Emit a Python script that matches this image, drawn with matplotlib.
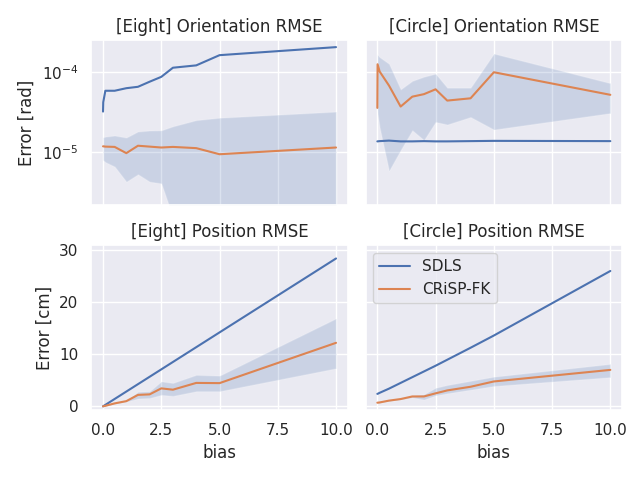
import matplotlib
matplotlib.use('Agg')
import matplotlib.pyplot as plt
import seaborn as sns

sns.set_theme()

bias = [0, 0.01, 0.1, 0.5, 1, 1.5, 2, 2.5, 3, 4, 5, 10]
methods = ['SDLS', 'CRiSP-FK']

# [Eight] orientation RMSE [rad]
eight_ori_sdls = [3.2e-5, 4.2e-5, 5.85e-5, 5.85e-5, 6.3e-5, 6.56e-5, 7.6e-5, 8.75e-5, 1.14e-4, 1.22e-4, 1.64e-4, 2.07e-4]
eight_ori_crisp = [1.17e-5, 1.17e-5, 1.16e-5, 1.15e-5, 9.6e-6, 1.19e-5, 1.16e-5, 1.13e-5, 1.15e-5, 1.11e-5, 9.3e-6, 1.13e-5]
eight_ori_hi = [1.51e-5, 1.52e-5, 1.55e-5, 1.6e-5, 1.51e-5, 1.8e-5, 1.85e-5, 1.86e-5, 2.09e-5, 2.5e-5, 2.68e-5, 3.2e-5]
eight_ori_lo = [8.0e-6, 7.8e-6, 7.4e-6, 6.5e-6, 4.2e-6, 5.2e-6, 4.2e-6, 4.0e-6, 1.5e-6, 5e-7, 3e-7, 3e-7]

# [Circle] orientation RMSE [rad]
circle_ori_sdls = [1.35e-5, 1.35e-5, 1.36e-5, 1.38e-5, 1.35e-5, 1.35e-5, 1.36e-5, 1.35e-5, 1.35e-5, 1.36e-5, 1.37e-5, 1.36e-5]
circle_ori_crisp = [3.56e-5, 1.26e-4, 1.02e-4, 6.8e-5, 3.7e-5, 4.93e-5, 5.3e-5, 6.1e-5, 4.4e-5, 4.7e-5, 1.0e-4, 5.2e-5]
circle_ori_hi = [1.7e-4, 1.65e-4, 1.55e-4, 1.28e-4, 6.1e-5, 7.8e-5, 8.8e-5, 9.6e-5, 6.4e-5, 6.4e-5, 1.72e-4, 7.3e-5]
circle_ori_lo = [3.5e-5, 3.0e-5, 2.0e-5, 5.75e-6, 1.05e-5, 1.86e-5, 1.4e-5, 2.37e-5, 2.2e-5, 2.73e-5, 1.9e-5, 3.06e-5]

# [Eight] position RMSE [cm]
eight_pos_sdls = [0.0, 0.03, 0.28, 1.42, 2.84, 4.26, 5.68, 7.1, 8.52, 11.36, 14.2, 28.4]
eight_pos_crisp = [0.0, 0.02, 0.1, 0.57, 1.0, 2.2, 2.3, 3.45, 3.2, 4.5, 4.46, 12.2]
eight_pos_hi = [0.0, 0.03, 0.15, 0.7, 1.1, 2.8, 2.9, 4.8, 4.5, 6.05, 5.9, 16.9]
eight_pos_lo = [0.0, 0.01, 0.06, 0.45, 0.9, 1.5, 1.6, 2.2, 2.0, 2.9, 2.9, 7.3]

# [Circle] position RMSE [cm]
circle_pos_sdls = [2.4, 2.4, 2.6, 3.4, 4.5, 5.6, 6.7, 7.8, 8.95, 11.25, 13.6, 26.0]
circle_pos_crisp = [0.7, 0.7, 0.75, 1.1, 1.4, 1.9, 1.9, 2.5, 3.06, 3.76, 4.78, 7.0]
circle_pos_hi = [0.8, 0.8, 0.85, 1.2, 1.5, 2.1, 2.3, 3.57, 4.1, 4.9, 5.7, 8.15]
circle_pos_lo = [0.6, 0.6, 0.65, 1.0, 1.3, 1.7, 1.3, 2.1, 2.5, 3.2, 3.9, 5.6]

panels = [
    ('[Eight] Orientation RMSE', eight_ori_sdls, eight_ori_crisp, eight_ori_lo, eight_ori_hi),
    ('[Circle] Orientation RMSE', circle_ori_sdls, circle_ori_crisp, circle_ori_lo, circle_ori_hi),
    ('[Eight] Position RMSE', eight_pos_sdls, eight_pos_crisp, eight_pos_lo, eight_pos_hi),
    ('[Circle] Position RMSE', circle_pos_sdls, circle_pos_crisp, circle_pos_lo, circle_pos_hi),
]

fig, axes = plt.subplots(2, 2, figsize=(6.4, 4.8), dpi=100, sharex=True, sharey='row')

for ax, (title, sdls, crisp, lo, hi) in zip(axes.flat, panels):
    ax.plot(bias, sdls, label=methods[0])
    ax.plot(bias, crisp, label=methods[1])
    ax.fill_between(bias, lo, hi, alpha=0.2)
    ax.set_title(title)

axes[0, 0].set_yscale('log')
axes[0, 0].set_ylim(2.13e-6, 2.52e-4)
axes[1, 0].set_ylim(-0.75, 30.9)
axes[0, 0].set_ylabel('Error [rad]')
axes[1, 0].set_ylabel('Error [cm]')
axes[1, 0].set_xlabel('bias')
axes[1, 1].set_xlabel('bias')
axes[1, 1].legend(loc='upper left')

fig.tight_layout()
fig.savefig('out.png')
